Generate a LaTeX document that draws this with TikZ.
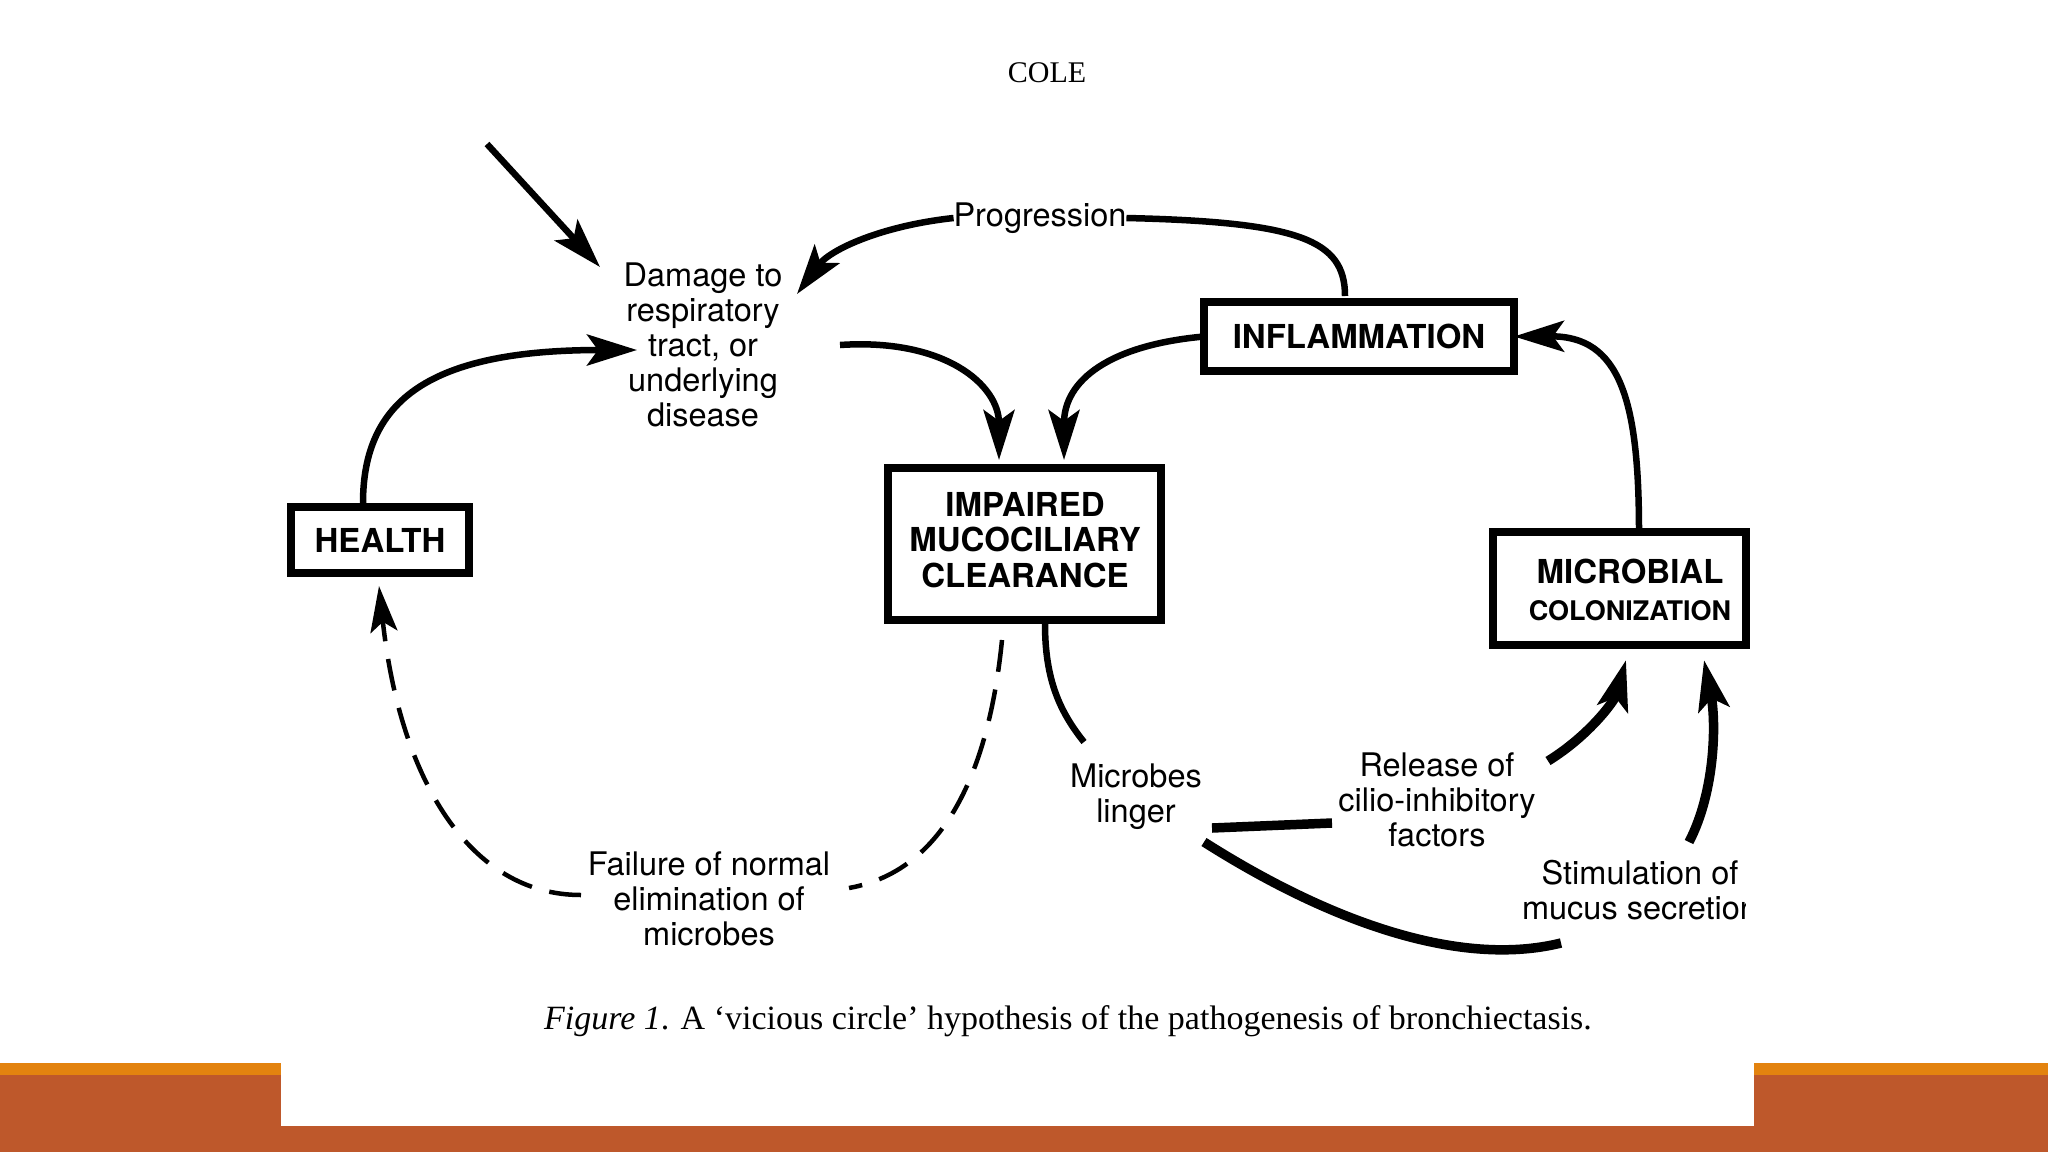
\documentclass[tikz,border=0pt]{standalone}
\usepackage{fontspec}
\setmainfont{Liberation Serif}
\newfontfamily\hv{TeX Gyre Heros}
\usetikzlibrary{arrows.meta}
\definecolor{bandorange}{HTML}{E3830F}
\definecolor{bandrust}{HTML}{BE582B}
\tikzset{
  every node/.style={inner sep=0pt, outer sep=0pt},
  lbl/.style={font=\hv\fontsize{32.5}{35}\selectfont, align=center},
  boxlbl/.style={font=\hv\bfseries\fontsize{33}{35.5}\selectfont, align=center},
  box/.style={draw, line width=8.5pt},
  conn/.style={line width=6.5pt},
  thickconn/.style={line width=9.5pt},
  arr/.style={-{Stealth[length=50pt,width=31pt,inset=11pt]}},
  smallarr/.style={-{Stealth[length=46pt,width=27pt,inset=10pt]}},
  dashconn/.style={line width=4.5pt, dash pattern=on 32pt off 18pt}
}
\begin{document}
\begin{tikzpicture}[x=1pt,y=-1pt]
\useasboundingbox (0,0) rectangle (2048,1152);
% background and bands
\fill[white] (0,0) rectangle (2048,1152);
\fill[bandorange] (0,1063) rectangle (2048,1075);
\fill[bandrust] (0,1075) rectangle (2048,1152);
\fill[white] (281,1063) rectangle (1754,1126);

% header
\node (cole) at (1047,73) {\fontsize{30}{32}\selectfont COLE};

% text nodes
\node[lbl] (damage) at (703,345) {Damage to\\respiratory\\tract, or\\underlying\\disease};
\node[lbl] (prog) at (1040,218) {Progression};
\node[lbl] (linger) at (1136,797) {Microbes\\linger};
\node[lbl] (release) at (1437,800) {Release of\\cilio-inhibitory\\factors};
\node[lbl] (failure) at (709,899) {Failure of normal\\elimination of\\microbes};
\begin{scope}
\clip (0,0) rectangle (1745,1152);
\node[lbl] (stim) at (1640,890) {Stimulation of\\mucus secretion};
\end{scope}

% boxes
\node[box, boxlbl, minimum width=310pt, minimum height=69pt] (infl) at (1359,336.5) {INFLAMMATION};
\node[box, minimum width=273pt, minimum height=152pt] (impaired) at (1024.5,544) {};
\node[boxlbl] (imptxt) at (1025,540) {IMPAIRED\\MUCOCILIARY\\CLEARANCE};
\node[box, boxlbl, minimum width=178pt, minimum height=66pt] (health) at (380,540) {HEALTH};
\node[box, minimum width=253pt, minimum height=113pt] (micro) at (1619.5,588.5) {};
\node[font=\hv\bfseries, align=center] (microtxt) at (1630,590) {\fontsize{33}{35}\selectfont MICROBIAL\\[16pt]\fontsize{27}{29}\selectfont COLONIZATION};

% coordinates for free ends
\coordinate (in0) at (487,144);
\coordinate (in1) at (600,267);
\coordinate (hstart) at (363,503);

% connectors
\draw[conn, arr] (in0) -- (in1);
\draw[conn, arr] (prog.west) .. controls (880,226) and (830,250) .. (797,294);
\draw[conn] (1345,296) .. controls (1345,240) and (1300,222) .. (prog.east);
\draw[conn, arr] (infl.west) .. controls (1110,345) and (1064,380) .. (1064,460);
\draw[conn, arr] (840,345) .. controls (945,338) and (999,385) .. (999,460);
\draw[conn, arr] (hstart) .. controls (363,400) and (430,350) .. (637,350);
\draw[conn, arr] (micro.north -| 1639,0) .. controls (1639,400) and (1620,336) .. (infl.east);
\draw[conn] (1045,624) .. controls (1045,680) and (1060,712) .. (1084,742);
\draw[dashconn] (1002,640) .. controls (990,760) and (950,870) .. (849,888);
\draw[dashconn, smallarr] (581,895) .. controls (470,895) and (400,780) .. (379,586);
\draw[thickconn] (1212,828) -- (1332,823);
\draw[thickconn, arr] (1548,761) .. controls (1590,735) and (1615,700) .. (1626,660);
\draw[thickconn] (1204,842) .. controls (1330,922) and (1460,968) .. (1561,943);
\draw[thickconn, arr] (1689,842) .. controls (1716,790) and (1716,720) .. (1704,660);

% caption
\node (caption) at (1068,1021) {\fontsize{34}{36}\selectfont \textit{Figure 1}. A ‘vicious circle’ hypothesis of the pathogenesis of bronchiectasis.};
\end{tikzpicture}
\end{document}
